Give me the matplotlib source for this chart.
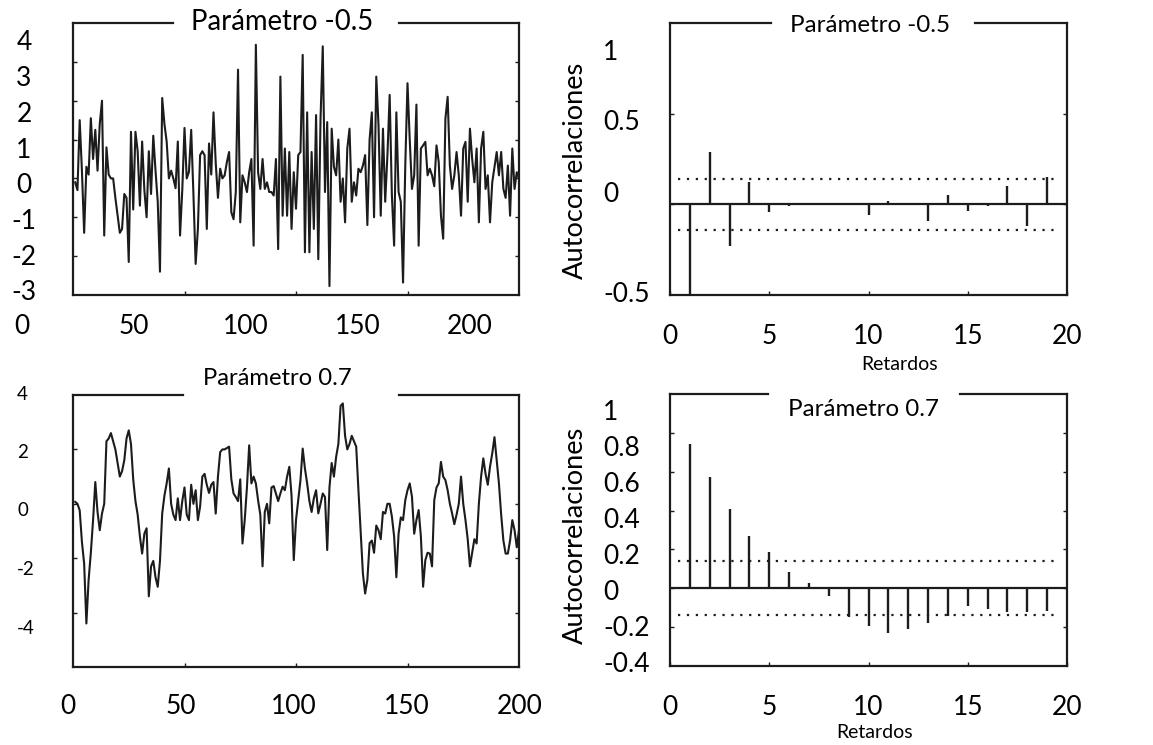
import numpy as np
import matplotlib.pyplot as plt

W, H = 1153, 745

# simulated series, parameter -0.5 (t = 1..200)
serie_neg = [
    -0.1, -0.3, 1.5, 0.2, -1.4, 0.3, 0.1, 1.55, 0.5, 1.25,
    0.2, 1.4, 2.0, -1.47, 0.8, 0.1, 0.0, 0.0, -0.5, -0.95,
    -1.4, -1.3, -0.4, -0.5, -2.15, 1.2, -0.8, 1.2, 0.7, -0.7,
    0.95, -0.3, -1.0, 0.7, -0.4, 1.1, 0.2, -0.6, -2.4, 2.07,
    1.4, 0.95, 0.0, 0.2, 0.0, -0.25, 0.95, -1.47, -0.3, 1.3,
    0.0, 0.17, 1.25, -0.4, -2.2, -1.3, 0.6, 0.7, 0.6, -1.3,
    0.9, 0.1, 1.7, 0.4, -0.5, 0.25, 0.0, 0.08, 0.42, 0.68,
    -0.87, -1.05, -0.35, 2.8, -1.13, 0.08, -0.1, -0.35, 0.16, 0.5,
    -1.73, 3.44, 0.16, -0.27, 0.5, -0.27, -0.1, -0.35, -0.35, -0.44,
    0.5, -1.82, 2.62, -0.96, 0.77, -0.96, 0.68, -1.3, 0.16, -0.78,
    0.6, 0.68, 3.18, -1.9, 1.7, -1.9, 0.68, -1.3, 1.63, -2.08,
    1.54, 3.4, -0.35, 1.45, -2.77, 1.28, 0.3, 0.08, 1.0, -0.6,
    0.0, -1.13, 0.77, 1.28, -0.6, -0.1, -0.44, 0.25, 0.16, 0.33,
    0.6, -1.2, 1.0, 1.7, -1.0, 2.62, 1.37, -0.96, 1.28, -0.6,
    0.6, 2.15, -0.44, -1.73, 1.7, -0.35, -0.6, -2.68, 0.33, 2.45,
    1.0, -0.27, 0.08, 1.9, -1.73, 0.77, 0.85, 0.94, 0.08, 0.25,
    0.08, -0.2, 0.85, 0.42, -0.96, -1.55, 1.54, 2.1, 0.33, -0.27,
    0.08, 0.68, 0.08, -0.96, 0.77, 0.94, -0.6, 1.28, 0.5, -0.1,
    0.77, -1.13, 0.77, 1.2, -0.27, 0.08, -1.13, -0.1, 0.3, 0.68,
    0.08, 0.68, -0.27, -0.5, 0.33, -0.96, 0.77, -0.27, 0.16, 0.0,
]

# simulated series, parameter 0.7
serie_pos = [
    0.07, 0.0, -0.24, -1.4, -2.2, -4.4, -2.8, -1.8, -0.6, 0.8,
    -0.3, -0.97, -0.36, 0.0, 2.3, 2.4, 2.6, 2.3, 2.0, 1.5,
    1.0, 1.2, 1.6, 2.4, 2.7, 2.2, 0.9, 0.1, -0.4, -1.2,
    -1.83, -1.1, -0.9, -3.4, -2.3, -2.1, -2.7, -3.05, -2.1, -0.36,
    0.3, 0.75, 1.3, 0.0, -0.4, -0.6, 0.2, -0.6, 0.1, 0.6,
    -0.4, -0.6, 0.7, 0.0, 0.5, -0.6, -0.1, 1.0, 1.1, 0.7,
    0.4, 0.7, 0.8, -0.36, 1.0, 1.9, 2.0, 2.0, 2.05, 2.1,
    0.9, 0.38, 0.25, 0.1, 0.9, -1.46, -0.6, 0.6, 2.15, 0.75,
    1.0, 0.75, 0.13, -0.4, -2.3, -0.3, 0.0, -0.72, 0.6, 0.65,
    0.38, 0.1, 0.38, 0.63, 0.5, 1.0, 1.36, 0.3, -2.07, -0.6,
    0.13, 0.87, 2.03, 1.3, 0.75, 0.1, -0.3, 0.2, 0.5, -0.35,
    0.0, 0.38, 0.25, -1.7, 0.6, 1.5, 1.0, 1.73, 2.2, 3.6,
    3.69, 2.5, 2.0, 2.2, 2.5, 2.3, 2.1, 0.5, -1.0, -2.56,
    -3.3, -2.8, -1.45, -1.35, -1.8, -0.8, -0.97, -1.3, -0.3, -0.36,
    0.0, 0.0, -0.47, -1.2, -2.7, -1.1, -0.5, -0.6, 0.13, 0.5,
    0.75, 0.26, -1.1, -0.6, -0.23, -1.2, -3.05, -2.07, -1.8, -1.83,
    -2.3, 0.13, 0.6, 0.75, 1.54, 1.0, 0.87, 0.5, 0.0, -0.35,
    -0.75, -0.4, 0.0, 1.0, 0.0, -0.6, -1.3, -2.3, -1.8, -1.3,
    -1.46, 0.0, 1.0, 1.67, 1.1, 0.7, 1.36, 1.85, 2.45, 1.6,
    0.75, -0.4, -1.35, -1.83, -1.83, -1.35, -0.6, -0.97, -1.6, -0.97,
]

lags = list(range(1, 20))
acf_neg = [-0.5, 0.29, -0.23, 0.125, -0.045, -0.01, 0.0, -0.005, 0.0, -0.06,
           0.02, 0.0, -0.09, 0.05, -0.035, -0.01, 0.10, -0.12, 0.15]
acf_pos = [0.745, 0.574, 0.407, 0.27, 0.185, 0.082, 0.027, -0.038, -0.149, -0.195,
           -0.229, -0.212, -0.178, -0.144, -0.092, -0.106, -0.123, -0.123, -0.118]
banda = 0.14

ticks_serie_neg = [4, 3, 2, 1, 0, -1, -2, -3]
ticks_serie_pos = [4, 2, 0, -2, -4]
ticks_tiempo = [0, 50, 100, 150, 200]
ticks_acf_neg = ['1', '0.5', '0', '-0.5']
ticks_acf_pos = ['1', '0.8', '0.6', '0.4', '0.2', '0', '-0.2', '-0.4']
ticks_lag = [0, 5, 10, 15, 20]

plt.rcParams['font.family'] = ['Lato', 'DejaVu Sans']
INK = '#1c1c1c'
BIG = 19


def box(l, t, r, b):
    return fig.add_axes([l / W, 1 - b / H, (r - l) / W, (b - t) / H])


def txt(x, y, s, **kw):
    kw.setdefault('ha', 'center')
    kw.setdefault('va', 'center')
    kw.setdefault('fontsize', BIG)
    fig.text(x / W, 1 - y / H, s, color='black', **kw)


def frame(ax, gap):
    # scanned-looking frame with the top edge broken around the title
    for side in ['left', 'right', 'bottom']:
        ax.spines[side].set_linewidth(1.6)
        ax.spines[side].set_color(INK)
    ax.spines['top'].set_visible(False)
    ax.plot([0, gap[0]], [1, 1], color=INK, lw=1.6, transform=ax.transAxes, clip_on=False)
    ax.plot([gap[1], 1], [1, 1], color=INK, lw=1.6, transform=ax.transAxes, clip_on=False)
    ax.tick_params(direction='in', length=3, width=1, colors=INK,
                   left=True, right=True, bottom=True, top=False,
                   labelleft=False, labelbottom=False)


fig = plt.figure(figsize=(W / 100, H / 100), dpi=100)

# --- top left: series -0.5
ax1 = box(73, 23, 519, 295)
t = np.arange(1, len(serie_neg) + 1)
ax1.plot(t, serie_neg, color=INK, lw=1.5)
ax1.set_xlim(0, 200)
ax1.set_ylim(-3, 4)
ax1.set_xticks([50, 100, 150])
ax1.set_yticks(range(-2, 4))
frame(ax1, (0.224, 0.731))
txt(282, 22, 'Parámetro -0.5', fontsize=19.8)
for i, v in enumerate(ticks_serie_neg):
    txt(24, 43 + 35.7 * i, str(v))
for i, v in enumerate(ticks_tiempo):
    txt(22 + 112 * i, 327, str(v))

# --- bottom left: series 0.7
ax3 = box(73, 395, 519, 667)
ax3.plot(t, serie_pos, color=INK, lw=1.5)
ax3.set_xlim(0, 200)
ax3.set_ylim(-6, 4)
ax3.set_xticks([50, 100, 150])
ax3.set_yticks([-4, -2, 0, 2])
frame(ax3, (0.247, 0.731))
txt(277, 379, 'Parámetro 0.7', fontsize=17.2)
for i, v in enumerate(ticks_serie_pos):
    txt(17, 394 + 58.5 * i, str(v), ha='left', fontsize=13.5)
for i, v in enumerate(ticks_tiempo):
    txt(68 + 113 * i, 706, str(v))

# --- top right: ACF -0.5
ax2 = box(670, 23, 1067, 295)
ax2.vlines(lags, 0, acf_neg, color=INK, lw=1.7)
ax2.axhline(0, color=INK, lw=1.6)
ax2.hlines([banda, -banda], 0.4, 19.6, color=INK, lw=1.6, linestyles=(0, (1, 3)))
ax2.set_xlim(0, 20)
ax2.set_ylim(-0.5, 1.0)
ax2.set_yticks([0.5, 0])
ax2.set_xticks(ticks_lag)
frame(ax2, (0.254, 0.768))
ax2.tick_params(axis='x', labelbottom=True, labelsize=BIG, pad=21, colors=INK, labelcolor='black')
txt(870, 25, 'Parámetro -0.5', fontsize=17.4)
for v, y in zip(ticks_acf_neg, [52, 123, 195, 295]):
    txt(603, y, v, ha='left')
txt(575, 170, 'Autocorrelaciones', rotation=90, fontsize=19.6)
txt(900, 364, 'Retardos', fontsize=14)

# --- bottom right: ACF 0.7
ax4 = box(670, 394, 1067, 666)
ax4.vlines(lags, 0, acf_pos, color=INK, lw=1.7)
ax4.axhline(0, color=INK, lw=1.6)
ax4.hlines([banda, -banda], 0.4, 19.6, color=INK, lw=1.6, linestyles=(0, (1, 3)))
ax4.set_xlim(0, 20)
ax4.set_ylim(-0.4, 1.0)
ax4.set_yticks(np.arange(-0.2, 0.81, 0.2))
ax4.set_xticks(ticks_lag)
frame(ax4, (0.247, 0.730))
ax4.tick_params(axis='x', labelbottom=True, labelsize=BIG, pad=21, colors=INK, labelcolor='black')
txt(863, 410, 'Parámetro 0.7', fontsize=17.4)
for i, v in enumerate(ticks_acf_pos):
    txt(603, 413 + 35.9 * i, v, ha='left')
txt(575, 535, 'Autocorrelaciones', rotation=90, fontsize=19.6)
txt(875, 733, 'Retardos', fontsize=14)

fig.savefig('out.png', dpi=100)
